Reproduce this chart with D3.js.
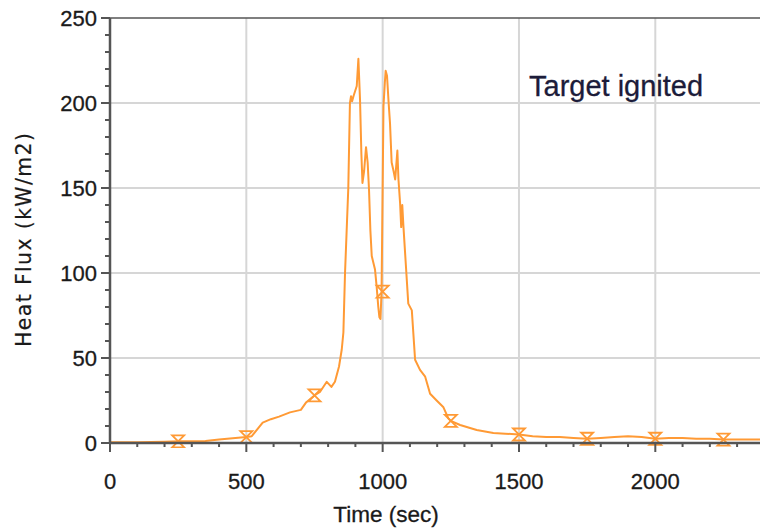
<!DOCTYPE html>
<html><head><meta charset="utf-8">
<script src="https://cdn.jsdelivr.net/npm/d3@7"></script>
<style>body{margin:0;background:#fff}svg{display:block}</style>
</head><body><svg id="c" width="760" height="528"></svg>
<script>
const timeSec = [0,100,200,250,300,350,400,450,500,520,540,560,590,620,660,700,720,750,770,795,812,825,840,850,856,862,868,874,880,884,888,893,905,911,917,922,926,932,939,945,950,955,960,972,978,984,988,992,996,1000,1003,1008,1011,1016,1022,1027,1033,1040,1046,1054,1058,1064,1068,1072,1076,1085,1094,1107,1119,1137,1156,1174,1198,1223,1241,1250,1284,1345,1406,1450,1500,1550,1600,1650,1700,1750,1800,1850,1900,1950,2000,2050,2100,2150,2200,2250,2300,2400];
const heatFlux = [0.5,0.5,0.8,1,1,1.2,2,2.8,3.5,4,8,12,14,15.5,18,19.5,24,28,30,36,33,36,45,55,65,100,125,150,200,204,201,204,210,226,202,170,153,160,174,165,149,125,110,102,92,80,74,73,89,150,198,212,219,216,200,188,165,160,155,172,155,141,127,140,128,105,82,78,49,43,39,29,25,21,14.5,13,10.6,7.6,5.9,5.5,5,4,3.5,3.5,3,2.5,3,3.5,4,3.5,2.5,3,3,2.5,2.5,2,2,2];
const markerTimes = [250,500,750,1000,1250,1500,1750,2000,2250];
const markerValues = [1,3.5,28,89,13,5,2.5,2.5,2];
const xTicks = [0,500,1000,1500,2000];
const yTicks = [0,50,100,150,200,250];
const annotation = "Target ignited";

const svg = d3.select("#c");
const L=110, T=18, R=760, B=443;
const x = d3.scaleLinear().domain([0,2384]).range([L,R]);
const y = d3.scaleLinear().domain([0,250]).range([B,T]);
const font = "'Liberation Sans', Arial, sans-serif";
const col = "#ff9a35";
const txt = "#1a1a1a";

// grid
svg.append("g").selectAll("line").data(xTicks.filter(d=>d>0)).join("line")
  .attr("x1",d=>x(d)).attr("x2",d=>x(d)).attr("y1",T).attr("y2",B)
  .attr("stroke","#d6d6d6").attr("stroke-width",2);
svg.append("g").selectAll("line").data(yTicks.filter(d=>d>0&&d<250)).join("line")
  .attr("x1",L).attr("x2",R).attr("y1",d=>y(d)).attr("y2",d=>y(d))
  .attr("stroke","#d6d6d6").attr("stroke-width",2);

// top frame
svg.append("line").attr("x1",L).attr("x2",R).attr("y1",T).attr("y2",T).attr("stroke","#555").attr("stroke-width",1.5);

// data
svg.append("clipPath").attr("id","cl").append("rect").attr("x",L).attr("y",0).attr("width",R-L).attr("height",B+5);
const g = svg.append("g").attr("clip-path","url(#cl)");
const line = d3.line().x((d,i)=>x(timeSec[i])).y(d=>y(d));
g.append("path").datum(heatFlux).attr("d",line).attr("fill","none")
  .attr("stroke",col).attr("stroke-width",2).attr("stroke-linejoin","round");
g.selectAll("path.m").data(markerTimes).join("path").attr("class","m")
  .attr("transform",(d,i)=>`translate(${x(d)},${y(markerValues[i])})`)
  .attr("d","M-6,-6L6,-6L-6,6L6,6Z").attr("fill","none").attr("stroke",col).attr("stroke-width",1.8);

// axes
const ax = svg.append("g").attr("transform",`translate(0,${B})`);
ax.selectAll("line.t").data(d3.range(0,2400,100)).join("line").attr("class","t")
  .attr("x1",d=>x(d)).attr("x2",d=>x(d)).attr("y1",0).attr("y2",d=>d%500===0?9:4)
  .attr("stroke","#555").attr("stroke-width",2);
ax.append("line").attr("x1",L).attr("x2",R).attr("y1",0).attr("y2",0).attr("stroke","#555").attr("stroke-width",2.5);
ax.selectAll("text").data(xTicks).join("text").attr("x",d=>x(d)).attr("y",46)
  .attr("text-anchor","middle").attr("font-family",font).attr("font-size",22)
  .attr("fill",txt).attr("stroke",txt).attr("stroke-width",0.3).text(d=>d);

const ay = svg.append("g");
ay.selectAll("line.t").data(d3.range(0,251,10)).join("line").attr("class","t")
  .attr("x1",d=>d%50===0?L-9:L-5).attr("x2",L).attr("y1",d=>y(d)).attr("y2",d=>y(d))
  .attr("stroke","#555").attr("stroke-width",2);
ay.append("line").attr("x1",L).attr("x2",L).attr("y1",T).attr("y2",B).attr("stroke","#555").attr("stroke-width",2.5);
ay.selectAll("text").data(yTicks).join("text").attr("x",97).attr("y",d=>y(d)+8)
  .attr("text-anchor","end").attr("font-family",font).attr("font-size",22)
  .attr("fill",txt).attr("stroke",txt).attr("stroke-width",0.3).text(d=>d);

svg.append("text").attr("x",386).attr("y",522).attr("text-anchor","middle")
  .attr("font-family",font).attr("font-size",22.5).attr("fill",txt).attr("stroke",txt).attr("stroke-width",0.3).text("Time (sec)");
svg.append("text").attr("transform","translate(31,240) rotate(-90)").attr("text-anchor","middle")
  .attr("font-family","'DejaVu Sans', Verdana, sans-serif").attr("font-size",20.5).attr("textLength",214)
  .attr("fill",txt).attr("stroke",txt).attr("stroke-width",0.2).text("Heat Flux (kW/m2)");
svg.append("text").attr("x",529).attr("y",96)
  .attr("font-family",font).attr("font-size",29).attr("fill","#1c1c3a").attr("stroke","#1c1c3a").attr("stroke-width",0.3).text(annotation);
</script></body></html>
